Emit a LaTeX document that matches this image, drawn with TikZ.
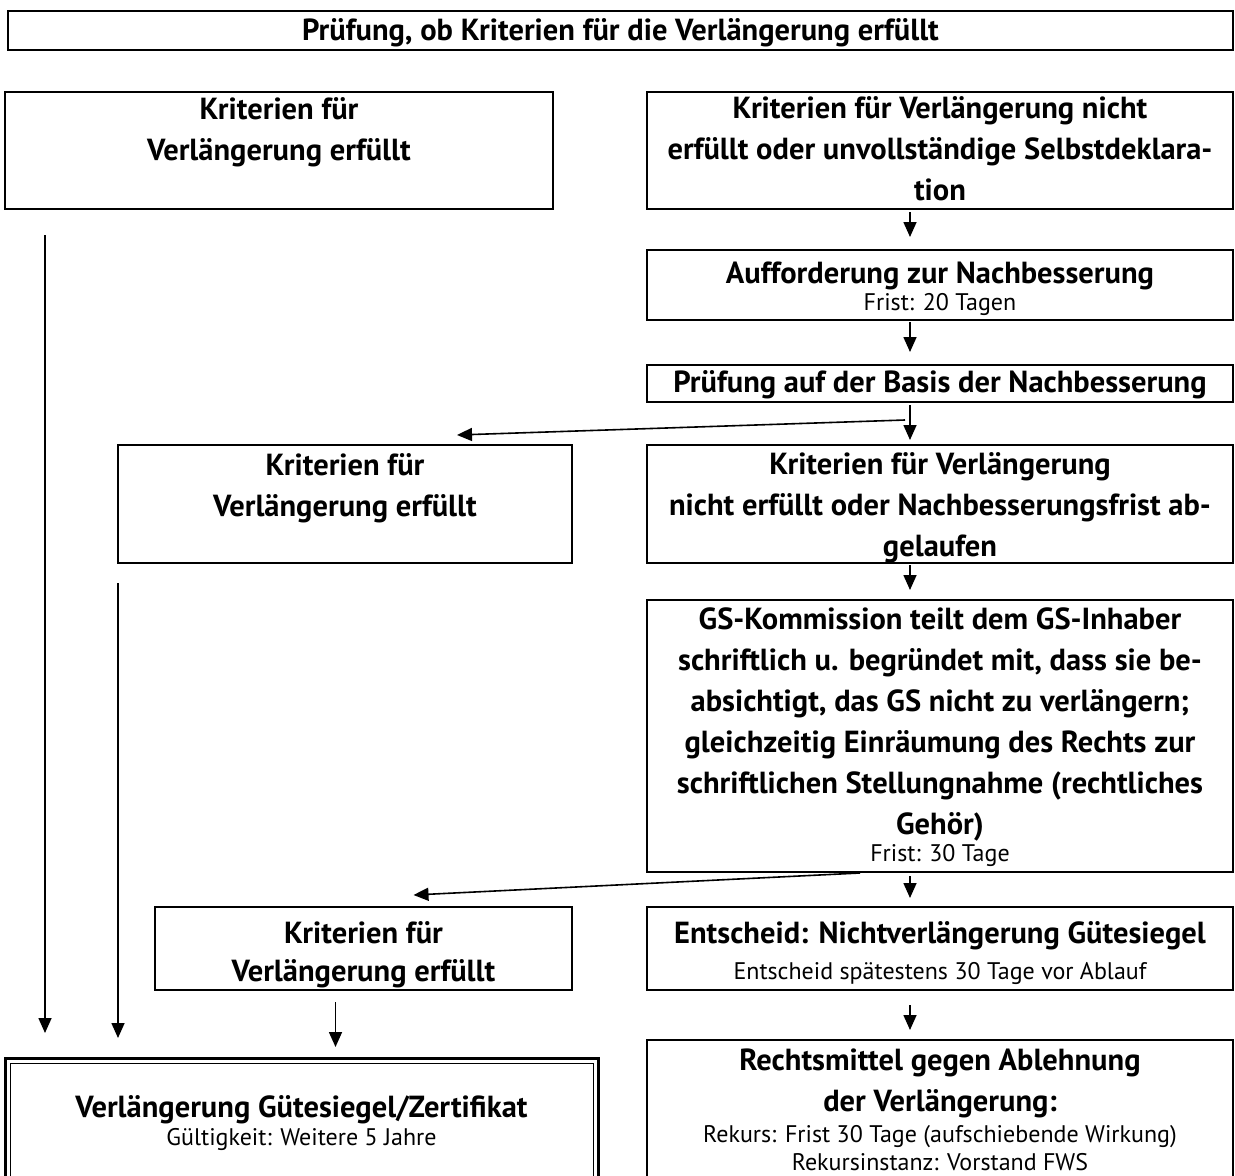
\documentclass[tikz,border=0pt]{standalone}
\usepackage{fontspec}
\setmainfont{PT Sans}
\usetikzlibrary{arrows.meta,calc}
\newcommand{\bt}{\fontsize{30.5}{41}\selectfont\bfseries}
\newcommand{\btx}{\fontsize{30.5}{38}\selectfont\bfseries}
\newcommand{\sm}{\fontsize{24}{28}\selectfont}
\newcommand{\boxc}[4]{\parbox[t][#2pt][t]{#1pt}{\centering\vspace*{#3pt}#4}}
\tikzset{
  box/.style={draw, line width=2pt, inner sep=0pt, outer sep=0pt, anchor=north west},
  arr/.style={line width=1.6pt, -{Triangle[width=13pt,length=15pt]}}
}
\begin{document}
\begin{tikzpicture}[x=1pt,y=-1pt]
\useasboundingbox (0,0) rectangle (1235,1176);
\fill[white] (0,0) rectangle (1235,1176);
\clip (0,0) rectangle (1235,1176);

\node[box] (t) at (8,11) {\boxc{1225}{39}{8}{\bt Prüfung, ob Kriterien für die Verlängerung erfüllt\par}};

\node[box] (a1) at (5,92) {\boxc{548}{117}{6}{\bt Kriterien für\\Verlängerung erfüllt\par}};
\node[box] (b1) at (647,92) {\boxc{586}{117}{5}{\bt Kriterien für Verlängerung nicht\\erfüllt oder unvollständige Selbstdeklara-\\tion\par}};

\node[box] (b2) at (647,250) {\boxc{586}{70}{12}{{\bt Aufforderung zur Nachbesserung\par}\vspace{-1pt}{\sm Frist: 20 Tagen\par}}};
\node[box] (b3) at (647,365) {\boxc{586}{37}{6}{\bt Prüfung auf der Basis der Nachbesserung\par}};

\node[box] (a2) at (118,445) {\boxc{454}{118}{9}{\bt Kriterien für\\Verlängerung erfüllt\par}};
\node[box] (b4) at (647,445) {\boxc{586}{118}{8}{\bt Kriterien für Verlängerung\\nicht erfüllt oder Nachbesserungsfrist ab-\\gelaufen\par}};

\node[box] (b5) at (647,600) {\boxc{586}{272}{8}{{\bt GS-Kommission teilt dem GS-Inhaber\\schriftlich u. begründet mit, dass sie be-\\absichtigt, das GS nicht zu verlängern;\\gleichzeitig Einräumung des Rechts zur\\schriftlichen Stellungnahme (rechtliches\\Gehör)\par}\vspace{-1pt}{\sm Frist: 30 Tage\par}}};

\node[box] (a3) at (155,907) {\boxc{417}{83}{14}{\btx Kriterien für\\Verlängerung erfüllt\par}};
\node[box] (b6) at (647,907) {\boxc{586}{83}{14}{{\bt Entscheid: Nichtverlängerung Gütesiegel\par}\vspace{8pt}{\sm Entscheid spätestens 30 Tage vor Ablauf\par}}};

\node[box, line width=3pt] (a4) at (5,1058) {\boxc{593}{200}{37}{{\bt Verlängerung Gütesiegel/Zertifikat\par}{\sm Gültigkeit: Weitere 5 Jahre\par}}};
\draw[line width=1pt] ([xshift=5pt,yshift=-5pt]a4.north west) rectangle ([xshift=-5pt,yshift=5pt]a4.south east);
\node[box] (b7) at (647,1040) {\boxc{586}{200}{9}{{\bt Rechtsmittel gegen Ablehnung\\der Verlängerung:\par}\vspace{3pt}{\sm Rekurs: Frist 30 Tage (aufschiebende Wirkung)\\Rekursinstanz: Vorstand FWS\par}}};

% vertical stubs on the right
\draw[arr] ([xshift=-30pt,yshift=-3pt]b1.south) -- ([xshift=-30pt,yshift=13pt]b2.north);
\draw[arr] ([xshift=-30pt,yshift=-2pt]b2.south) -- ([xshift=-30pt,yshift=13pt]b3.north);
\draw[arr] ([xshift=-30pt,yshift=-3pt]b3.south) -- ([xshift=-30pt,yshift=5pt]b4.north);
\draw[arr] ([xshift=-30pt,yshift=-2pt]b4.south) -- ([xshift=-30pt,yshift=10pt]b5.north);
\draw[arr] ([xshift=-30pt,yshift=-4pt]b5.south) -- ([xshift=-30pt,yshift=9pt]b6.north);
\draw[arr] ([xshift=-30pt,yshift=-15pt]b6.south) -- ([xshift=-30pt,yshift=10pt]b7.north);

% diagonal arrows
\draw[arr] ([xshift=-35pt,yshift=-18pt]b3.south) -- ([xshift=112pt,yshift=10pt]a2.north);
\draw[arr] ([xshift=-80pt,yshift=-1pt]b5.south) -- ([xshift=50pt,yshift=12pt]a3.north);

% left long arrows
\draw[arr] ([xshift=40pt,yshift=-26pt]a1.south west) -- ([xshift=40pt,yshift=25pt]a4.north west);
\draw[arr] ([xshift=0pt,yshift=-20pt]a2.south west) -- ([xshift=113pt,yshift=20pt]a4.north west);
\draw[arr] ([xshift=-28pt,yshift=-12pt]a3.south) -- ([xshift=-28pt,yshift=11pt]a3.south |- a4.north);
\end{tikzpicture}
\end{document}
